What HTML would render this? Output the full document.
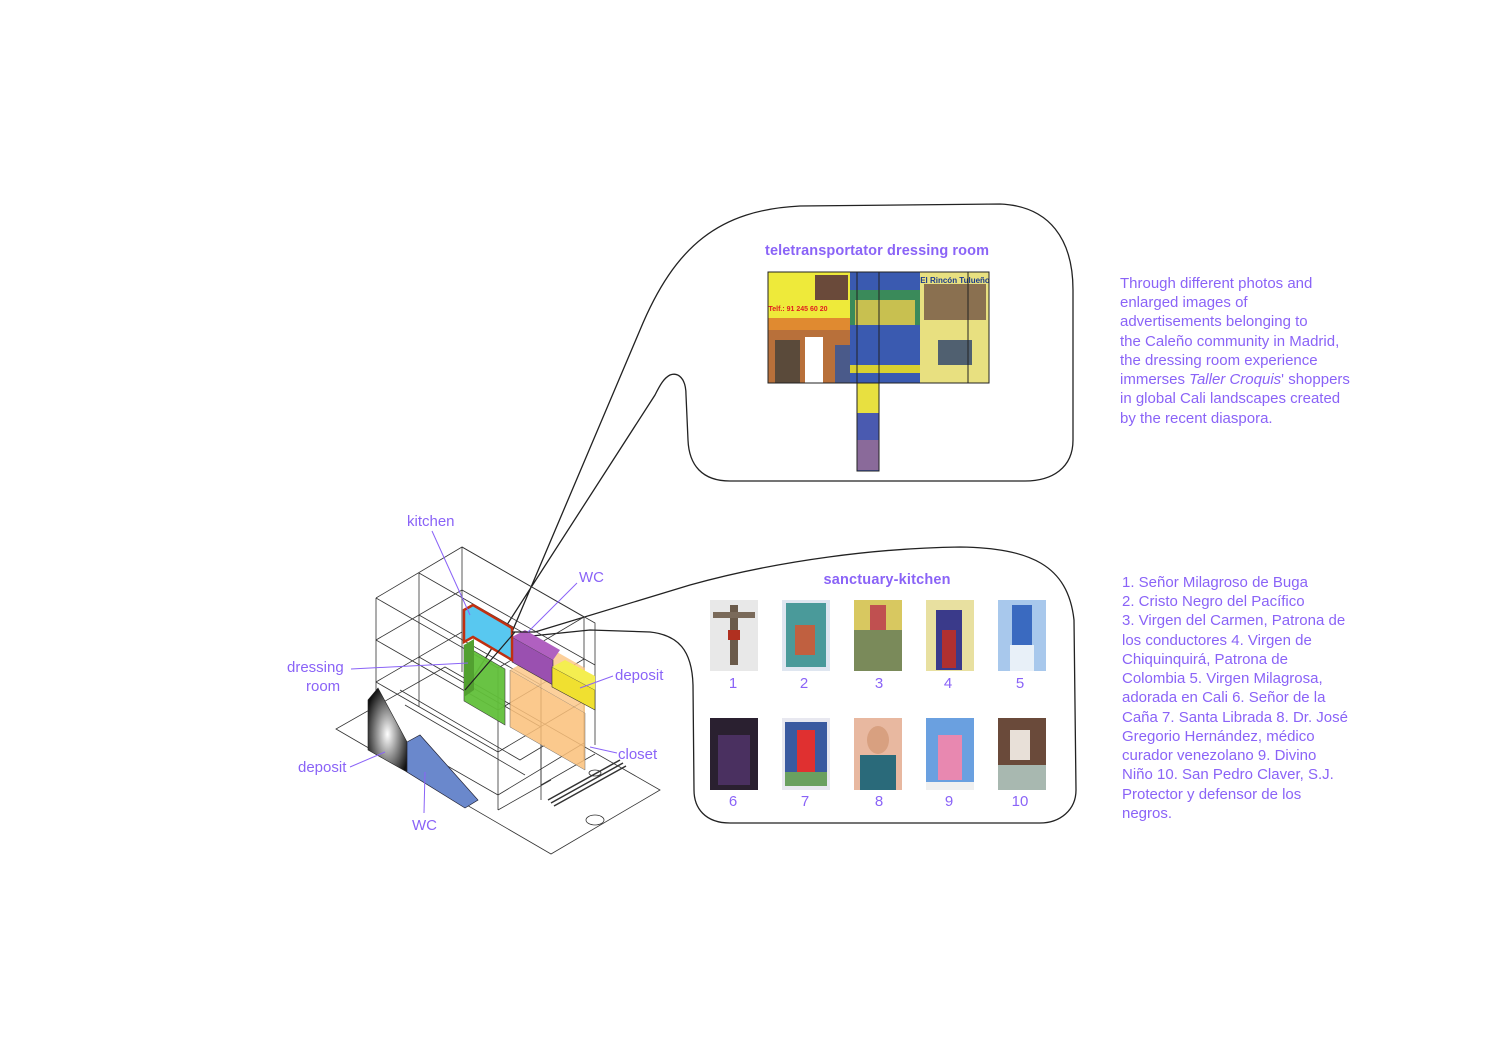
<!DOCTYPE html>
<html><head><meta charset="utf-8"><style>
html,body{margin:0;padding:0;background:#fff}
svg{display:block}
text{font-family:"Liberation Sans",sans-serif;fill:#8a63f7}
</style></head><body>
<svg width="1500" height="1061" viewBox="0 0 1500 1061" xmlns="http://www.w3.org/2000/svg">
<defs>
<radialGradient id="gw" cx="0.5" cy="0.55" r="0.6"><stop offset="0" stop-color="#fff"/><stop offset="1" stop-color="#111"/></radialGradient>
</defs>
<!-- bubble 1 -->
<path d="M512,632 L640,330 C675,245 720,210 800,206 L1000,204 C1050,206 1073,240 1073,290 L1073,440 C1073,468 1052,481 1025,481 L730,481 C702,481 689,465 688,440 L686,395 C686,378 678,372 670,375 C664,378 660,385 655,395 L465,690" fill="none" stroke="#222" stroke-width="1.3"/>
<!-- bubble 2 -->
<path d="M535,632 L690,585 C780,560 880,548 960,547 C1030,548 1068,565 1074,620 L1076,790 C1076,810 1060,823 1040,823 L730,823 C705,823 694,808 694,790 L693,685 C692,650 678,635 650,632 L590,630 L512,638" fill="none" stroke="#222" stroke-width="1.3"/>

<text x="877" y="255" font-size="14.5" font-weight="bold" text-anchor="middle" textLength="224">teletransportator dressing room</text>
<text x="887" y="584" font-size="14.5" font-weight="bold" text-anchor="middle" textLength="127">sanctuary-kitchen</text>

<!-- ad composite -->
<g>
<rect x="768" y="272" width="221" height="111" fill="#e8d84a"/>
<rect x="768" y="272" width="82" height="46" fill="#eeea3a"/>
<rect x="815" y="275" width="33" height="25" fill="#6a4a3a"/>
<rect x="768" y="318" width="82" height="65" fill="#b8703a"/>
<rect x="768" y="318" width="82" height="12" fill="#e08a30"/>
<rect x="775" y="340" width="25" height="43" fill="#5a4a3a"/>
<rect x="805" y="337" width="18" height="46" fill="#fff"/>
<rect x="835" y="345" width="15" height="38" fill="#4a5a8a"/>
<rect x="850" y="272" width="70" height="111" fill="#3a5ab0"/>
<rect x="850" y="290" width="70" height="35" fill="#3a8a5a"/>
<rect x="855" y="300" width="60" height="25" fill="#c8c050"/>
<rect x="850" y="365" width="70" height="8" fill="#d8d030"/>
<rect x="920" y="272" width="69" height="111" fill="#e8e080"/>
<rect x="924" y="284" width="62" height="36" fill="#8a7050"/>
<rect x="938" y="340" width="34" height="25" fill="#506070"/>
<text x="955" y="283" font-size="8" font-weight="bold" style="fill:#1a3a8a" text-anchor="middle">El Rincón Tulueño</text>
<text x="798" y="311" font-size="7" font-weight="bold" style="fill:#e02020" text-anchor="middle">Telf.: 91 245 60 20</text>
<rect x="857" y="383" width="22" height="88" fill="#4a5ab0"/>
<rect x="857" y="383" width="22" height="30" fill="#e8e040"/>
<rect x="857" y="440" width="22" height="30" fill="#8a6a9a"/>
<rect x="768" y="272" width="221" height="111" fill="none" stroke="#222" stroke-width="1"/>
<path d="M857,272 V471 H879 V272 M968,272 V383" fill="none" stroke="#222" stroke-width="1"/>
</g>

<!-- saints -->
<g>
<rect x="710" y="600" width="48" height="71" fill="#e8e8e8"/><rect x="730" y="605" width="8" height="60" fill="#6a5a4a"/><rect x="713" y="612" width="42" height="6" fill="#7a6a5a"/><rect x="728" y="630" width="12" height="10" fill="#b03020"/>
<rect x="782" y="600" width="48" height="71" fill="#dfe6f0"/><rect x="786" y="603" width="40" height="64" fill="#4a9a9a"/><rect x="795" y="625" width="20" height="30" fill="#c06040"/>
<rect x="854" y="600" width="48" height="71" fill="#d8c860"/><rect x="854" y="630" width="48" height="41" fill="#7a8a5a"/><rect x="870" y="605" width="16" height="25" fill="#c05050"/>
<rect x="926" y="600" width="48" height="71" fill="#e8e0a0"/><rect x="936" y="610" width="26" height="60" fill="#3a3a8a"/><rect x="942" y="630" width="14" height="38" fill="#b03030"/>
<rect x="998" y="600" width="48" height="71" fill="#a8c8ec"/><rect x="1012" y="605" width="20" height="40" fill="#3a6ac0"/><rect x="1010" y="645" width="24" height="26" fill="#e8f0f8"/>
<rect x="710" y="718" width="48" height="72" fill="#2a2030"/><rect x="718" y="735" width="32" height="50" fill="#4a3060"/>
<rect x="782" y="718" width="48" height="72" fill="#e8e8f0"/><rect x="785" y="722" width="42" height="50" fill="#3a5aa0"/><rect x="797" y="730" width="18" height="45" fill="#e03030"/><rect x="785" y="772" width="42" height="14" fill="#6aa060"/>
<rect x="854" y="718" width="48" height="72" fill="#e8b8a0"/><rect x="860" y="755" width="36" height="35" fill="#2a6a7a"/><ellipse cx="878" cy="740" rx="11" ry="14" fill="#d8a080"/>
<rect x="926" y="718" width="48" height="72" fill="#6aa0e0"/><rect x="938" y="735" width="24" height="45" fill="#e888b0"/><rect x="926" y="782" width="48" height="8" fill="#f0f0f0"/>
<rect x="998" y="718" width="48" height="72" fill="#6a4a3a"/><rect x="1010" y="730" width="20" height="30" fill="#e8e0d8"/><rect x="998" y="765" width="48" height="25" fill="#a8b8b0"/>
</g>
<g font-size="15" text-anchor="middle">
<text x="733" y="688">1</text><text x="804" y="688">2</text><text x="879" y="688">3</text><text x="948" y="688">4</text><text x="1020" y="688">5</text>
<text x="733" y="806">6</text><text x="805" y="806">7</text><text x="879" y="806">8</text><text x="949" y="806">9</text><text x="1020" y="806">10</text>
</g>

<!-- right text -->
<g font-size="15">
<text x="1120" y="288">Through different photos and</text>
<text x="1120" y="307">enlarged images of</text>
<text x="1120" y="326">advertisements belonging to</text>
<text x="1120" y="346">the Caleño community in Madrid,</text>
<text x="1120" y="365">the dressing room experience</text>
<text x="1120" y="384">immerses <tspan font-style="italic">Taller Croquis</tspan>' shoppers</text>
<text x="1120" y="403">in global Cali landscapes created</text>
<text x="1120" y="423">by the recent diaspora.</text>
</g>
<g font-size="15">
<text x="1122" y="587">1. Señor Milagroso de Buga</text>
<text x="1122" y="606">2. Cristo Negro del Pacífico</text>
<text x="1122" y="625">3. Virgen del Carmen, Patrona de</text>
<text x="1122" y="645">los conductores 4. Virgen de</text>
<text x="1122" y="664">Chiquinquirá, Patrona de</text>
<text x="1122" y="683">Colombia 5. Virgen Milagrosa,</text>
<text x="1122" y="702">adorada en Cali 6. Señor de la</text>
<text x="1122" y="722">Caña 7. Santa Librada 8. Dr. José</text>
<text x="1122" y="741">Gregorio Hernández, médico</text>
<text x="1122" y="760">curador venezolano 9. Divino</text>
<text x="1122" y="779">Niño 10. San Pedro Claver, S.J.</text>
<text x="1122" y="799">Protector y defensor de los</text>
<text x="1122" y="818">negros.</text>
</g>

<!-- building -->
<g fill="none" stroke="#333" stroke-width="0.8">
<path d="M336,729 L551,854 L660,790 L445,667 Z"/>
<ellipse cx="595" cy="820" rx="9" ry="5"/>
<ellipse cx="595" cy="773" rx="6" ry="3"/>
<path d="M376,598 L462,547 L595,623 L595,745"/>
<path d="M376,598 L376,725 M419,573 L419,707 M462,547 L462,672"/>
<path d="M376,598 L498,668 L498,810 M376,640 L498,710 M376,682 L498,752 M376,725 L498,795"/>
<path d="M419,573 L541,643 L541,785 M462,547 L584,617"/>
<path d="M498,668 L584,617 M498,710 L584,659 M498,752 L584,701 M498,795 L584,743 M498,810 L551,780"/>
<path d="M376,640 L462,590 L595,665 M376,682 L462,632 M419,615 L541,685 M419,657 L541,727"/>
<path d="M541,643 L541,800 M584,617 L584,760 M541,785 L595,754"/>
<path d="M400,690 L520,760 L545,745 M405,705 L525,775"/>
<path d="M548,800 L620,760 M551,803 L623,763 M554,806 L626,766" stroke-width="1.5"/>
</g>
<polygon points="464,645 505,669 505,725 464,701" fill="#62c03a" stroke="#333" stroke-width="0.6" opacity="0.95"/>
<polygon points="464,645 474,639 474,690 464,697" fill="#52a030"/>
<polygon points="510,670 585,713 585,770 510,727" fill="#fbc07a" opacity="0.85" stroke="#555" stroke-width="0.5"/>
<polygon points="510,670 550,648 585,668 585,713" fill="#fcc88a" opacity="0.85"/>
<polygon points="512,637 553,660 553,685 512,662" fill="#9a50b0" stroke="#333" stroke-width="0.6"/>
<polygon points="512,637 525,630 560,650 553,660" fill="#b060c0"/>
<polygon points="552,667 595,690 595,710 552,687" fill="#f0e030" stroke="#333" stroke-width="0.6"/>
<polygon points="552,667 565,660 595,676 595,690" fill="#f4ee50"/>
<polygon points="464,610 473,605 512,628 512,660 473,637 464,642" fill="#58c8f0" stroke="#c03010" stroke-width="2.5"/>
<polygon points="368,700 378,688 407,742 407,772 368,750" fill="url(#gw)" stroke="#222" stroke-width="0.6"/>
<polygon points="407,742 420,735 478,800 465,808 407,772" fill="#6a88cc" stroke="#223" stroke-width="0.7"/>
<path d="M465,690 L515,632 M512,632 L535,632" fill="none" stroke="#222" stroke-width="1.2"/>

<g stroke="#8a63f7" stroke-width="1" fill="none">
<path d="M432,531 L470,615"/>
<path d="M577,583 L528,632"/>
<path d="M351,669 L468,663"/>
<path d="M613,676 L580,688"/>
<path d="M617,753 L590,747"/>
<path d="M350,767 L385,752"/>
<path d="M424,813 L425,772"/>
</g>
<g font-size="15">
<text x="407" y="526">kitchen</text>
<text x="579" y="582">WC</text>
<text x="287" y="672">dressing</text>
<text x="306" y="691">room</text>
<text x="615" y="680">deposit</text>
<text x="618" y="759">closet</text>
<text x="298" y="772">deposit</text>
<text x="412" y="830">WC</text>
</g>
</svg>
</body></html>
